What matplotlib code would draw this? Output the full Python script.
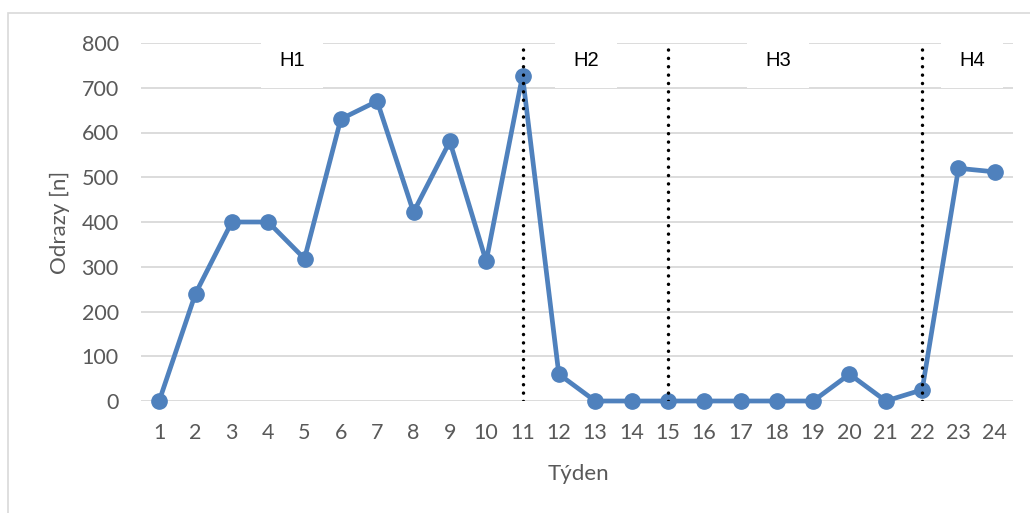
import matplotlib.pyplot as plt
from matplotlib.patches import Rectangle

# Weekly counts
weeks = list(range(1, 25))
counts = [0, 240, 400, 400, 318, 630, 670, 422, 580, 312, 727, 60,
          0, 0, 0, 0, 0, 0, 0, 60, 0, 25, 520, 512]

# Phase boundaries and phase labels
boundaries = [11, 15, 22]
phase_names = ["H1", "H2", "H3", "H4"]
phase_x = [4.66, 12.75, 18.03, 23.37]
phase_y = 762

plt.rcParams["font.family"] = ["Lato", "DejaVu Sans"]

fig = plt.figure(figsize=(10.30, 5.13), dpi=100)
W, H = 1030, 513

# outer chart frame
fig.patches.append(Rectangle((8 / W, -0.2), 1.2, 1.2 - 13 / H,
                             transform=fig.transFigure, fill=False,
                             edgecolor="#d9d9d9", linewidth=1.2))

ax = fig.add_axes([141 / W, 1 - 401 / H, 872 / W, 358 / H])
ax.set_xlim(0.5, 24.5)
ax.set_ylim(0, 800)
ax.set_yticks(range(0, 801, 100))
ax.set_xticks(weeks)
ax.set_xticklabels([str(w) for w in weeks])

for s in ax.spines.values():
    s.set_visible(False)
ax.grid(axis="y", color="#d9d9d9", linewidth=1.3)
ax.set_axisbelow(True)
ax.tick_params(axis="both", length=0, labelsize=15.5, labelcolor="#595959")
ax.tick_params(axis="y", pad=16)
ax.tick_params(axis="x", pad=16)

# phase separators
for b in boundaries:
    ax.plot([b, b], [0, 800], color="black", linewidth=2.5,
            linestyle=(0, (0.01, 2.4)), dash_capstyle="round", zorder=4)

ax.plot(weeks, counts, color="#4f81bd", linewidth=3.4, marker="o",
        markersize=11, zorder=3, clip_on=False)

for name, x in zip(phase_names, phase_x):
    ax.text(x, phase_y, name, ha="center", va="center", fontsize=14.5,
            family=["Liberation Sans"], color="black", zorder=5,
            bbox=dict(boxstyle="square,pad=0.9", facecolor="white",
                      edgecolor="none"))

ax.set_xlabel("Týden", fontsize=16, color="#595959")
ax.set_ylabel("Odrazy [n]", fontsize=16, color="#595959")
ax.xaxis.label.set_va("center")
ax.yaxis.label.set_va("center")
ax.xaxis.set_label_coords((578 - 141) / 872, (401 - 474) / 358)
ax.yaxis.set_label_coords((60 - 141) / 872, 0.5)

fig.savefig("out.png", dpi=100)
